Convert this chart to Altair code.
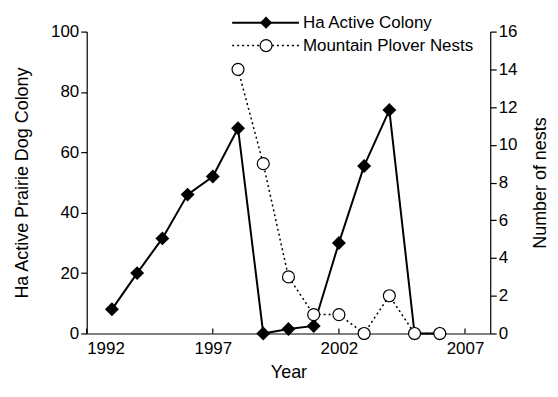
import altair as alt
import pandas as pd

# ---- data ----
years_colony = [1993, 1994, 1995, 1996, 1997, 1998, 1999, 2000, 2001, 2002, 2003, 2004, 2005, 2006]
colony_ha = [8, 20, 31.5, 46, 52, 68, 0, 1.5, 2.5, 30, 55.5, 74, 0, 0]
years_nests = [1998, 1999, 2000, 2001, 2002, 2003, 2004, 2005, 2006]
nests = [14, 9, 3, 1, 1, 0, 2, 0, 0]
x_ticks = [1992, 1997, 2002, 2007]
left_ticks = [0, 20, 40, 60, 80, 100]
right_ticks = [0, 2, 4, 6, 8, 10, 12, 14, 16]
legend_labels = ["Ha Active Colony", "Mountain Plover Nests"]

W, H = 405, 303
FONT = "Liberation Sans"
LBL = 17
TTL = 18

col = pd.DataFrame({"Year": years_colony, "Ha": colony_ha})
nst = pd.DataFrame({"Year": years_nests, "Nests": nests})
tick_df = pd.DataFrame({"Year": x_ticks})

xs = alt.Scale(domain=[1992, 2008], nice=False, zero=False)
x_axis = alt.Axis(values=x_ticks, format="d", title="Year", tickSize=0,
                  labelPadding=7, titlePadding=7)

base_c = alt.Chart(col).encode(
    x=alt.X("Year:Q", scale=xs, axis=x_axis),
    y=alt.Y("Ha:Q", scale=alt.Scale(domain=[0, 100], nice=False),
            axis=alt.Axis(orient="left", values=left_ticks, title="Ha Active Prairie Dog Colony",
                          tickSize=6, labelPadding=2, titlePadding=19)),
)
line_c = base_c.mark_line(color="black", strokeWidth=2)
pts_c = base_c.mark_point(shape="diamond", filled=True, color="black", size=196, opacity=1)

base_n = alt.Chart(nst).encode(
    x=alt.X("Year:Q", scale=xs),
    y=alt.Y("Nests:Q", scale=alt.Scale(domain=[0, 16], nice=False),
            axis=alt.Axis(orient="right", values=right_ticks, title="Number of nests",
                          tickSize=6, labelPadding=2, titlePadding=15, titleAngle=270,
                          titleBaseline="top")),
)
line_n = base_n.mark_line(color="black", strokeWidth=1.5, strokeDash=[2, 3])
pts_n = base_n.mark_point(shape="circle", filled=True, fill="white", stroke="black",
                          strokeWidth=1.2, size=144, opacity=1)

# inward x ticks
xt = alt.Chart(tick_df).mark_rule(color="black", strokeWidth=1.2).encode(
    x=alt.X("Year:Q", scale=xs), y=alt.value(H), y2=alt.value(H - 5)
)

# manual legend
lg1 = pd.DataFrame({"label": [legend_labels[0]]})
lg2 = pd.DataFrame({"label": [legend_labels[1]]})
LX0, LX1, LXM, LXT = 146, 213, 180, 217
LY1, LY2 = -9, 14
leg = alt.layer(
    alt.Chart(lg1).mark_rule(color="black", strokeWidth=2).encode(
        x=alt.value(LX0), x2=alt.value(LX1), y=alt.value(LY1)),
    alt.Chart(lg1).mark_point(shape="diamond", filled=True, color="black", size=150, opacity=1).encode(
        x=alt.value(LXM), y=alt.value(LY1)),
    alt.Chart(lg1).mark_text(align="left", baseline="middle", font=FONT, fontSize=LBL).encode(
        x=alt.value(LXT), y=alt.value(LY1), text="label:N"),
    alt.Chart(lg2).mark_rule(color="black", strokeWidth=1.5, strokeDash=[2, 3]).encode(
        x=alt.value(LX0), x2=alt.value(LX1), y=alt.value(LY2)),
    alt.Chart(lg2).mark_point(shape="circle", filled=True, fill="white", stroke="black",
                              strokeWidth=1.2, size=144, opacity=1).encode(
        x=alt.value(LXM), y=alt.value(LY2)),
    alt.Chart(lg2).mark_text(align="left", baseline="middle", font=FONT, fontSize=LBL).encode(
        x=alt.value(LXT), y=alt.value(LY2), text="label:N"),
)

left = alt.layer(line_c, pts_c)
right = alt.layer(line_n, pts_n)

chart = alt.layer(left, right, xt, leg).resolve_scale(y="independent").properties(
    width=W, height=H, padding={"left": 5, "top": 5, "right": 0, "bottom": 0}
).configure_view(stroke=None).configure_axis(
    grid=False, domainColor="black", tickColor="black", labelColor="black", titleColor="black",
    labelFont=FONT, titleFont=FONT, labelFontSize=LBL, titleFontSize=TTL, titleFontWeight="normal",
    domainWidth=1.2, tickWidth=1.2,
)

chart.save("out.html", embed_options={"renderer": "svg", "actions": False})
